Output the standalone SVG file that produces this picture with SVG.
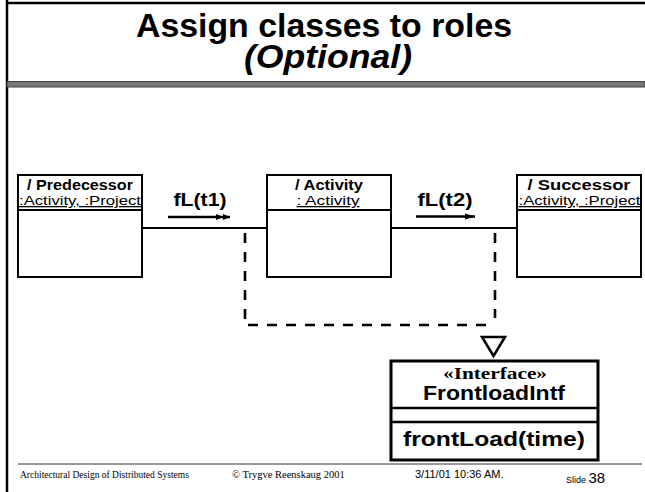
<svg xmlns="http://www.w3.org/2000/svg" width="645" height="492" viewBox="0 0 645 492">
<defs>
<style>
.box{fill:#fff;stroke:#000;stroke-width:2}
.ln{stroke:#000;stroke-width:2;fill:none}
.sans{font-family:"Liberation Sans",Arial,sans-serif}
.serif{font-family:"Liberation Serif","Times New Roman",serif}
.b{font-weight:bold}
.name{font-family:"Liberation Sans",Arial,sans-serif;font-weight:bold;font-size:14px;text-anchor:middle}
.cls{font-family:"Liberation Sans",Arial,sans-serif;font-size:13px;text-anchor:middle;text-decoration:underline}
.msg{font-family:"Liberation Sans",Arial,sans-serif;font-weight:bold;font-size:18px;text-anchor:middle}
.dash{stroke:#000;stroke-width:2.6;fill:none;stroke-dasharray:10 9}
.foot{font-family:"Liberation Serif","Times New Roman",serif}
</style>
<marker id="async" viewBox="0 0 14 8" refX="14" refY="4" markerWidth="14" markerHeight="8" markerUnits="userSpaceOnUse" orient="auto">
<path d="M0,1 L7,4 L0,7 Z M7,1 L14,4 L7,7 Z" fill="#000"/>
</marker>
<marker id="arr" viewBox="0 0 10 8" refX="10" refY="4" markerWidth="10" markerHeight="8" markerUnits="userSpaceOnUse" orient="auto">
<path d="M0,1 L10,4 L0,7 Z" fill="#000"/>
</marker>
<clipPath id="c1"><rect x="19" y="176" width="122" height="33"/></clipPath>
<clipPath id="c3"><rect x="518" y="176" width="122" height="33"/></clipPath>
</defs>
<rect width="645" height="492" fill="#fff"/>
<g id="frame">
<line x1="7" y1="0" x2="7" y2="492" stroke="#000" stroke-width="2.5"/>
<line x1="6" y1="3" x2="645" y2="3" stroke="#000" stroke-width="2.5"/>
<rect x="7" y="81.5" width="638" height="5.5" fill="#777" stroke="#444" stroke-width="1"/>
<line x1="18" y1="464" x2="642" y2="464" stroke="#333" stroke-width="1"/>
</g>
<g id="title">
<text x="324" y="37" class="sans b" font-size="34" text-anchor="middle" textLength="376" lengthAdjust="spacingAndGlyphs">Assign classes to roles</text>
<text x="328" y="68" class="sans b" font-size="34" font-style="italic" text-anchor="middle" textLength="168" lengthAdjust="spacingAndGlyphs">(Optional)</text>
</g>
<g id="connectors">
<line class="ln" x1="142" y1="228" x2="267" y2="228"/>
<line class="ln" x1="391" y1="228" x2="517" y2="228"/>
<line x1="168" y1="217" x2="230" y2="217" stroke="#000" stroke-width="2.5" marker-end="url(#async)"/>
<text x="200" y="206" class="msg" textLength="53" lengthAdjust="spacingAndGlyphs">fL(t1)</text>
<line x1="416" y1="216.5" x2="475" y2="216.5" stroke="#000" stroke-width="2.5" marker-end="url(#arr)"/>
<text x="445" y="206" class="msg" textLength="55" lengthAdjust="spacingAndGlyphs">fL(t2)</text>
<path class="dash" d="M245,233 V325 H492"/>
<path class="dash" d="M495,233 V318"/>
<polygon points="482,337 505,337 493.5,356" fill="#fff" stroke="#000" stroke-width="2.5"/>
</g>
<g id="predecessor">
<rect class="box" x="18" y="175" width="124" height="102"/>
<line class="ln" x1="18" y1="210" x2="142" y2="210"/>
<text x="80" y="190" class="name" textLength="106" lengthAdjust="spacingAndGlyphs">/ Predecessor</text>
<g clip-path="url(#c1)"><text x="80" y="205" class="cls" textLength="122" lengthAdjust="spacingAndGlyphs">:Activity, :Project</text></g>
</g>
<g id="activity">
<rect class="box" x="267" y="175" width="124" height="102"/>
<line class="ln" x1="267" y1="210" x2="391" y2="210"/>
<text x="329" y="190" class="name" textLength="68" lengthAdjust="spacingAndGlyphs">/ Activity</text>
<text x="328" y="205" class="cls" textLength="63" lengthAdjust="spacingAndGlyphs">: Activity</text>
</g>
<g id="successor">
<rect class="box" x="517" y="175" width="124" height="102"/>
<line class="ln" x1="517" y1="210" x2="641" y2="210"/>
<text x="579" y="190" class="name" textLength="103" lengthAdjust="spacingAndGlyphs">/ Successor</text>
<g clip-path="url(#c3)"><text x="579.5" y="205" class="cls" textLength="122" lengthAdjust="spacingAndGlyphs">:Activity, :Project</text></g>
</g>
<g id="frontloadintf">
<rect x="391" y="361" width="207" height="99" fill="#fff" stroke="#000" stroke-width="3"/>
<line x1="391" y1="408" x2="598" y2="408" stroke="#000" stroke-width="2.5"/>
<line x1="391" y1="422" x2="598" y2="422" stroke="#000" stroke-width="2.5"/>
<text x="495" y="379" class="serif b" font-size="17" text-anchor="middle" textLength="104" lengthAdjust="spacingAndGlyphs">«Interface»</text>
<text x="494" y="400" class="sans b" font-size="20" text-anchor="middle" textLength="142" lengthAdjust="spacingAndGlyphs">FrontloadIntf</text>
<text x="494" y="446" class="sans b" font-size="20" text-anchor="middle" textLength="182" lengthAdjust="spacingAndGlyphs">frontLoad(time)</text>
</g>
<g id="footer">
<text x="20" y="478" class="foot" font-size="9.5">Architectural Design of Distributed Systems</text>
<text x="232" y="478" class="foot" font-size="10.5">© Trygve Reenskaug 2001</text>
<text x="415" y="478" class="sans" font-size="11">3/11/01 10:36 AM.</text>
<text x="566" y="483" class="sans" font-size="9">Slide <tspan font-size="15">38</tspan></text>
</g>
</svg>
